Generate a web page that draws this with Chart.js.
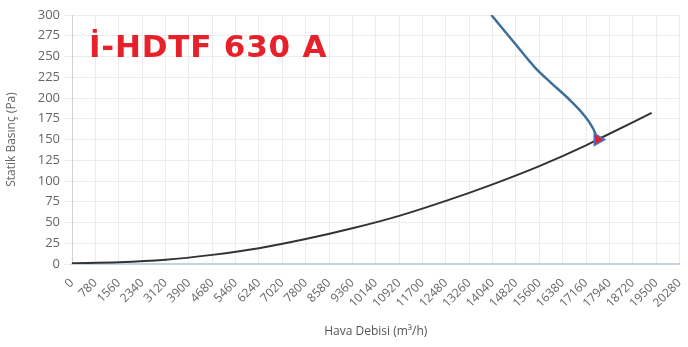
<!DOCTYPE html>
<html>
<head>
<meta charset="utf-8">
<script src="https://cdn.jsdelivr.net/npm/chart.js@4/dist/chart.umd.min.js"></script>
<style>
  html, body { margin: 0; padding: 0; background: #fff; }
  #wrap { position: relative; width: 688px; height: 347px; }
  #title {
    position: absolute; left: 89px; top: 28px; line-height: 36px;
    font-family: "DejaVu Sans", sans-serif; font-weight: 700; font-size: 31px;
    letter-spacing: 0.8px; color: #e8202a; white-space: nowrap;
  }
</style>
</head>
<body>
<div id="wrap">
  <canvas id="fanChart" width="688" height="347"></canvas>
  <div id="title">İ-HDTF 630 A</div>
</div>
<script>
// System curve
const systemFlow = [0, 1560, 3120, 4680, 6240, 7800, 9360, 10920, 12480, 14040, 15600, 17160, 17550, 19350];
const systemPressure = [1, 2, 5, 11, 19, 30, 43, 58, 76, 96, 118, 143, 150, 182];

// Fan curve
const fanFlow = [14000, 14800, 15450, 16000, 16550, 17100, 17400, 17550];
const fanPressure = [300, 265, 237, 218, 200, 179, 163, 150];

// Operating point
const opFlow = [17550];
const opPressure = [150];

// Axis settings
const xMax = 20280;
const xStep = 780;
const yMax = 300;
const yStep = 25;

const toXY = (xs, ys) => xs.map((x, i) => ({ x: x, y: ys[i] }));

const ctx = document.getElementById('fanChart').getContext('2d');

new Chart(ctx, {
  type: 'line',
  data: {
    datasets: [
      {
        data: toXY(opFlow, opPressure),
        showLine: false,
        pointStyle: 'triangle',
        rotation: 90,
        pointRadius: 7,
        backgroundColor: '#e81c2c',
        borderColor: '#4a72c0',
        borderWidth: 1.5,
        order: 0
      },
      {
        data: toXY(fanFlow, fanPressure),
        borderColor: '#3d6f9c',
        borderWidth: 2.5,
        pointRadius: 0,
        cubicInterpolationMode: 'monotone',
        order: 1
      },
      {
        data: toXY(systemFlow, systemPressure),
        borderColor: '#333333',
        borderWidth: 2,
        pointRadius: 0,
        cubicInterpolationMode: 'monotone',
        order: 2
      }
    ]
  },
  options: {
    responsive: false,
    animation: false,
    layout: { padding: { top: 15, right: 4, left: 0, bottom: 0 } },
    plugins: {
      legend: { display: false },
      tooltip: { enabled: false }
    },
    scales: {
      x: {
        type: 'linear',
        min: 0,
        max: xMax,
        afterFit: s => { s.height = 83; s.paddingRight = 0; s.paddingLeft = 0; },
        ticks: {
          stepSize: xStep,
          autoSkip: false,
          minRotation: 45,
          maxRotation: 45,
          color: '#666',
          padding: 12,
          font: { family: 'Open Sans', size: 12 },
          callback: v => String(v)
        },
        grid: { color: '#ececec', drawTicks: false },
        border: { color: '#c3d3e3', width: 2 },
        title: {
          display: true,
          text: 'Hava Debisi (m³/h)',
          color: '#555',
          font: { family: 'Open Sans', size: 12 },
          padding: { top: 0, bottom: 8 }
        }
      },
      y: {
        min: 0,
        max: yMax,
        afterFit: s => { s.width = 72; },
        ticks: {
          stepSize: yStep,
          color: '#666',
          padding: 4,
          font: { family: 'Open Sans', size: 13 }
        },
        grid: { color: '#ececec', tickLength: 8 },
        border: { color: '#d0d0d0' },
        title: {
          display: true,
          text: 'Statik Basınç (Pa)',
          color: '#666',
          font: { family: 'Open Sans', size: 12 },
          padding: { top: 4, bottom: 0 }
        }
      }
    }
  }
});
</script>
</body>
</html>
